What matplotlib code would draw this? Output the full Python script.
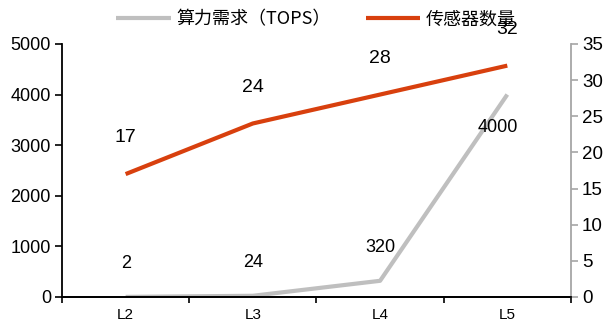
import matplotlib.pyplot as plt
import numpy as np

plt.rcParams['font.family'] = ['Liberation Sans', 'Noto Sans CJK SC', 'DejaVu Sans']

levels = ['L2', 'L3', 'L4', 'L5']
tops = [2, 24, 320, 4000]
sensors = [17, 24, 28, 32]

RED = '#D8400E'
GRAY = '#BFBFBF'

fig = plt.figure(figsize=(6.08, 3.23), dpi=100)
ax = fig.add_axes([0.102, 0.0805, 0.837, 0.7835])
ax2 = ax.twinx()

x = np.arange(len(levels))
l1, = ax.plot(x, tops, color=GRAY, lw=3.0, solid_capstyle='butt', label='算力需求（TOPS）')
l2, = ax2.plot(x, sensors, color=RED, lw=3.0, solid_capstyle='butt', label='传感器数量')

# value labels
for xi, v in zip(x, tops):
    off = (-7, -24) if v > 1000 else (0, 24)
    ax.annotate(str(v), (xi, v), xytext=off, textcoords='offset points',
                ha='center', va='center', fontsize=13)
for xi, v in zip(x, sensors):
    ax2.annotate(str(v), (xi, v), xytext=(0, 26), textcoords='offset points',
                 ha='center', va='center', fontsize=14)

ax.set_xlim(-0.5, len(levels) - 0.5)
ax.set_ylim(0, 5000)
ax2.set_ylim(0, 35)
ax.set_yticks(np.arange(0, 5001, 1000))
ax2.set_yticks(np.arange(0, 36, 5))

# category ticks sit on the boundaries, labels in the middle
ax.set_xticks(np.arange(len(levels) + 1) - 0.5)
ax.set_xticklabels([])
ax.set_xticks(x, minor=True)
ax.set_xticklabels(levels, minor=True, fontsize=11)
ax.tick_params(axis='x', which='minor', length=0, pad=8)
ax.tick_params(axis='x', which='major', length=4, width=1.2, color='black', direction='out')
ax.tick_params(axis='y', length=5, width=1.2, direction='out', labelsize=13, pad=3)
ax2.tick_params(axis='y', length=5, width=1.2, direction='out', color='#A6A6A6', labelsize=13.5, pad=3)

for a in (ax, ax2):
    a.spines['top'].set_visible(False)
ax.spines['right'].set_visible(False)
ax2.spines['left'].set_visible(False)
ax.spines['left'].set_linewidth(1.3)
ax.spines['bottom'].set_linewidth(1.3)
ax2.spines['bottom'].set_linewidth(1.3)
ax2.spines['right'].set_color('#A6A6A6')
ax2.spines['right'].set_linewidth(1.3)

leg = fig.legend(handles=[l1, l2], loc='center', bbox_to_anchor=(0.52, 0.94), ncol=2,
                 frameon=False, handlelength=3.0, columnspacing=1.9, handletextpad=0.35,
                 prop={'family': ['Noto Sans CJK SC', 'DejaVu Sans'], 'size': 13})

fig.savefig('out.png', dpi=100)
